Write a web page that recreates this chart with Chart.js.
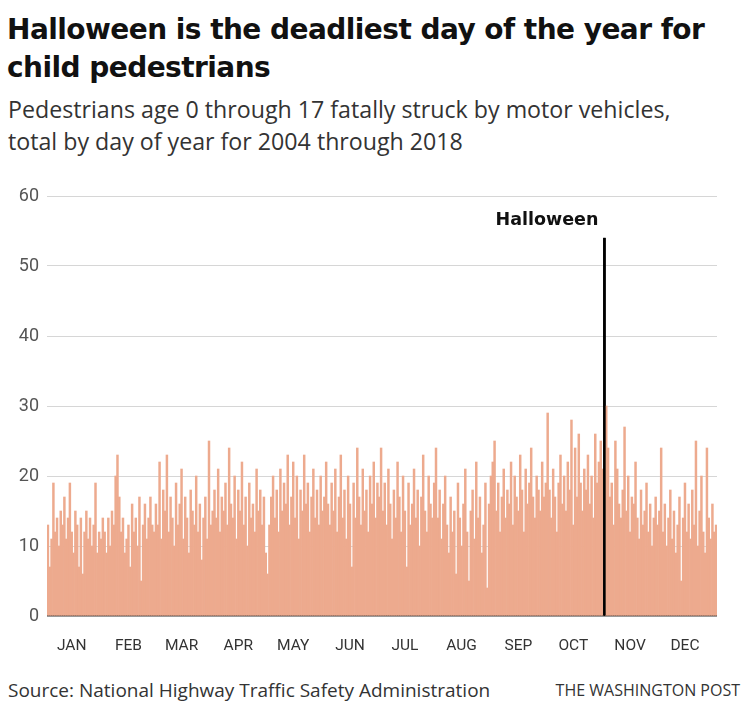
<!DOCTYPE html>
<html>
<head>
<meta charset="utf-8">
<script src="https://cdn.jsdelivr.net/npm/chart.js@4.4.0/dist/chart.umd.min.js"></script>
<style>
  body { margin: 0; background: #fff; width: 750px; height: 718px; overflow: hidden; position: relative; }
  #title { position: absolute; left: 7px; top: 11px; font: bold 28px/38px "DejaVu Sans", sans-serif; color: #111; letter-spacing: -0.55px; }
  #sub { position: absolute; left: 8px; top: 93px; font: 23.2px/32px "Open Sans", sans-serif; color: #333; }
  #wrap { position: absolute; left: 0; top: 170px; width: 750px; height: 485px; }
  #src { position: absolute; left: 8px; top: 678px; font: 19px/24px "Open Sans", sans-serif; color: #333; }
  #wp { position: absolute; right: 10px; top: 680px; font: 16px/20px "Open Sans", sans-serif; color: #333; }
</style>
</head>
<body>
<div id="title">Halloween is the deadliest day of the year for<br>child pedestrians</div>
<div id="sub">Pedestrians age 0 through 17 fatally struck by motor vehicles,<br>total by day of year for 2004 through 2018</div>
<div id="wrap"><canvas id="chart" width="750" height="485"></canvas></div>
<div id="src">Source: National Highway Traffic Safety Administration</div>
<div id="wp">THE WASHINGTON POST</div>
<script>
// daily totals
const jan = [13,7,11,19,12,14,10,15,13,17,11,14,19,12,9,15,13,7,14,6,12,15,11,14,10,13,19,9,12,11,14];
const feb = [12,9,14,10,15,13,20,23,17,12,14,9,11,13,7,16,12,14,10,17,5,13,16,11,14,17,13,12,16];
const mar = [13,22,11,18,15,23,12,17,14,10,19,13,16,21,11,17,14,9,18,15,13,20,12,16,8,14,17,11,25,13,15];
const apr = [18,14,21,12,17,15,19,13,24,16,14,20,11,18,15,22,13,17,10,19,14,16,12,21,15,18,13,17,9,6];
const may = [13,17,20,14,18,12,21,15,19,16,23,13,17,22,14,20,11,18,15,23,16,19,12,17,21,14,18,13,20,15,17];
const jun = [22,16,13,19,15,21,12,17,23,14,18,11,20,16,7,19,14,24,17,13,21,15,18,12,20,16,22,14,19,17];
const jul = [24,15,19,13,21,16,11,18,14,22,17,12,20,15,7,19,13,16,21,14,18,10,17,23,15,12,20,16,14,19,24];
const aug = [14,18,11,16,20,13,9,17,12,15,6,19,14,10,16,21,12,5,15,18,11,22,14,17,9,13,19,4,16,20,22];
const sep = [25,15,19,12,17,21,14,18,16,22,13,20,17,15,23,18,12,21,16,19,24,17,14,20,18,15,22,17,19,29];
const oct = [18,14,21,17,12,19,23,16,20,15,22,18,28,13,24,17,26,19,15,21,18,23,16,20,14,26,19,22,25,21,54];
const nov = [30,24,17,19,13,25,21,16,14,18,27,15,20,12,17,16,22,14,11,18,13,15,19,12,16,10,14,17,13,15];
const dec = [24,12,16,10,14,18,11,15,9,13,17,5,14,19,12,16,11,18,13,25,10,15,20,12,9,24,14,11,16,12,13];

const months = ['JAN','FEB','MAR','APR','MAY','JUN','JUL','AUG','SEP','OCT','NOV','DEC'];
const yTicks = [0, 10, 20, 30, 40, 50, 60];
const halloweenLabel = 'Halloween';

const monthData = [jan, feb, mar, apr, may, jun, jul, aug, sep, oct, nov, dec];
const values = [];
const labels = [];
const monthOfTick = {};
monthData.forEach((m, mi) => {
  m.forEach((v, d) => {
    if (d === 13) monthOfTick[values.length] = months[mi];
    labels.push(months[mi] + ' ' + (d + 1));
    values.push(v);
  });
});
const halloweenIdx = labels.indexOf('OCT 31');

const barColor = '#edaa8e';
const colors = values.map((v, i) => i === halloweenIdx ? '#000' : barColor);

const halloweenPlugin = {
  id: 'halloween',
  afterDraw(chart) {
    const bar = chart.getDatasetMeta(0).data[halloweenIdx];
    const y = chart.scales.y;
    const ctx = chart.ctx;
    ctx.save();
    ctx.strokeStyle = '#000';
    ctx.lineWidth = 2.5;
    ctx.beginPath();
    ctx.moveTo(bar.x, bar.y);
    ctx.lineTo(bar.x, bar.base);
    ctx.stroke();
    ctx.fillStyle = '#111';
    ctx.font = 'bold 17.5px "DejaVu Sans"';
    ctx.textAlign = 'right';
    ctx.textBaseline = 'middle';
    ctx.fillText(halloweenLabel, bar.x - 6, y.getPixelForValue(56.5));
    ctx.restore();
  }
};

new Chart(document.getElementById('chart'), {
  type: 'bar',
  data: {
    labels: labels,
    datasets: [{
      data: values,
      backgroundColor: colors,
      borderWidth: 0,
      barPercentage: 1,
      categoryPercentage: 1
    }]
  },
  options: {
    responsive: false,
    animation: false,
    layout: { padding: { top: 26, right: 33, left: 0, bottom: 0 } },
    plugins: { legend: { display: false }, tooltip: { enabled: false } },
    scales: {
      x: {
        grid: { display: false },
        border: { display: false },
        afterFit(scale) { scale.height = 39; },
        ticks: {
          autoSkip: false,
          maxRotation: 0,
          padding: 13,
          color: '#333',
          font: { family: 'Roboto', size: 15.5 },
          callback: (val, i) => monthOfTick[i] || ''
        }
      },
      y: {
        min: 0,
        max: 60,
        z: 1,
        afterFit(scale) { scale.width = 47; },
        afterBuildTicks(scale) { scale.ticks = yTicks.map(v => ({ value: v })); },
        border: { display: false },
        grid: {
          drawTicks: false,
          color: ctx => ctx.tick && ctx.tick.value === 0 ? '#333' : 'rgba(0,0,0,0.16)',
          lineWidth: ctx => ctx.tick && ctx.tick.value === 0 ? 1.5 : 1
        },
        ticks: {
          padding: 8,
          color: '#555',
          font: { family: 'Roboto', size: 18 }
        }
      }
    }
  },
  plugins: [halloweenPlugin]
});
</script>
</body>
</html>
